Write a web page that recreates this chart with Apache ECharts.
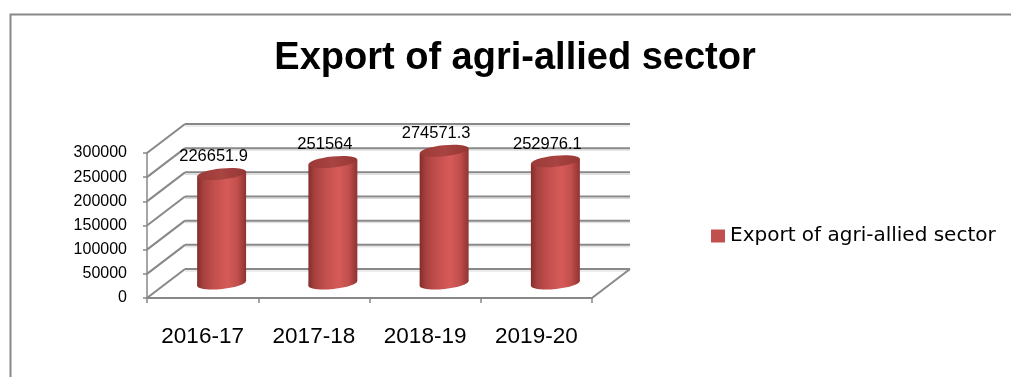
<!DOCTYPE html>
<html>
<head>
<meta charset="utf-8">
<script src="https://cdn.jsdelivr.net/npm/echarts@6/dist/echarts.min.js"></script>
<style>
html,body{margin:0;padding:0;background:#fff;}
#chart{width:1011px;height:377px;}
</style>
</head>
<body>
<div id="chart"></div>
<script>
// ---- data ----
const titleText = 'Export of agri-allied sector';
const seriesName = 'Export of agri-allied sector';
const categories = ['2016-17', '2017-18', '2018-19', '2019-20'];
const exportValues = [226651.9, 251564, 274571.3, 252976.1];
const yTicks = [0, 50000, 100000, 150000, 200000, 250000, 300000];

// ---- style constants ----
const DX = 38, DY = -29;           // depth offset of back wall
const GRID_C = '#888888';
const SANS = '"Liberation Sans", Arial, sans-serif';

const chart = echarts.init(document.getElementById('chart'), null, {renderer: 'canvas'});

function frameItem(params, api) {
  const cs = params.coordSys;
  const v = api.value(1);
  const y = api.coord([0, v])[1];
  const x0 = cs.x, x1 = cs.x + cs.width;
  const kids = [
    {type: 'line', shape: {x1: x0 + DX, y1: y + DY + 2, x2: x1 + DX, y2: y + DY + 2},
     style: {stroke: '#d9d9d9', lineWidth: 1}},
    {type: 'line', shape: {x1: x0, y1: y, x2: x0 + DX, y2: y + DY},
     style: {stroke: GRID_C, lineWidth: 2}},
    {type: 'line', shape: {x1: x0 + DX, y1: y + DY, x2: x1 + DX, y2: y + DY},
     style: {stroke: GRID_C, lineWidth: 2}}
  ];
  if (v === 0) {
    kids.push({type: 'line', shape: {x1: x1, y1: y, x2: x1 + DX, y2: y + DY},
      style: {stroke: GRID_C, lineWidth: 2}});
  }
  return {type: 'group', children: kids};
}

function cylItem(params, api) {
  const i = api.value(0), v = api.value(1);
  const top = api.coord([i, v]);
  const base = api.coord([i, 0]);
  const cx = top[0] + DX / 2;
  const ty = top[1] + DY / 2;
  const by = base[1] + DY / 2;
  const rx = api.size([1, 0])[0] * 0.22;
  const ry = 5.5;
  const t = 2.5;
  const ang = Math.atan2(t, rx);
  const bodyGrad = new echarts.graphic.LinearGradient(0, 0, 1, 0, [
    {offset: 0, color: '#842c2a'},
    {offset: 0.12, color: '#a5413f'},
    {offset: 0.35, color: '#c34f4c'},
    {offset: 0.62, color: '#d55b58'},
    {offset: 0.82, color: '#c24f4c'},
    {offset: 1, color: '#8f3331'}
  ]);
  const topGrad = new echarts.graphic.LinearGradient(0, 0, 1, 0, [
    {offset: 0, color: '#9b3a38'},
    {offset: 0.5, color: '#a84442'},
    {offset: 1, color: '#963734'}
  ]);
  return {
    type: 'group',
    children: [
      {type: 'ellipse', x: cx, y: by, rotation: ang, shape: {cx: 0, cy: 0, rx: rx, ry: ry},
       style: {fill: bodyGrad}},
      {type: 'polygon', shape: {points: [[cx - rx, ty + t], [cx + rx, ty - t], [cx + rx, by - t], [cx - rx, by + t]]},
       style: {fill: bodyGrad}},
      {type: 'ellipse', x: cx, y: ty, rotation: ang, shape: {cx: 0, cy: 0, rx: rx, ry: ry},
       style: {fill: topGrad}},
      {type: 'text', x: cx - 8, y: ty - 17,
       style: {text: String(v), fill: '#000', fontSize: 16.5, fontFamily: SANS,
               align: 'center', verticalAlign: 'middle'}}
    ]
  };
}

const option = {
  backgroundColor: '#ffffff',
  animation: false,
  title: {
    text: titleText,
    left: 515,
    top: 40,
    padding: 0,
    textAlign: 'center',
    textStyle: {fontFamily: SANS, fontWeight: 'bold',
                fontSize: 38, lineHeight: 38, color: '#000'}
  },
  legend: {
    data: [seriesName],
    left: 711,
    top: 226,
    padding: 0,
    icon: 'rect',
    itemWidth: 14,
    itemHeight: 13,
    itemGap: 5,
    textStyle: {fontFamily: '"DejaVu Sans", sans-serif', fontSize: 20, lineHeight: 20,
                color: '#000', padding: [0, 0, 0, 0]}
  },
  graphic: [
    {type: 'rect', left: 8, top: 12, silent: true, z: -10,
     shape: {x: 0, y: 0, width: 1100, height: 500},
     style: {fill: 'none', stroke: '#888888', lineWidth: 2}}
  ],
  grid: {left: 147, top: 153, width: 445, height: 145, containLabel: false},
  xAxis: {
    type: 'category',
    data: categories,
    boundaryGap: true,
    axisLine: {show: true, lineStyle: {color: GRID_C, width: 2}},
    axisTick: {show: true, interval: 0, length: 5, lineStyle: {color: GRID_C, width: 1.5}},
    axisLabel: {interval: 0, fontFamily: SANS, fontSize: 22.5, lineHeight: 22, color: '#000', margin: 28},
    splitLine: {show: false}
  },
  yAxis: {
    type: 'value',
    min: 0,
    max: 300000,
    interval: 50000,
    axisLine: {show: true, lineStyle: {color: GRID_C, width: 1.5}},
    axisTick: {show: true, length: 4, lineStyle: {color: GRID_C, width: 1.5}},
    axisLabel: {fontFamily: SANS, fontSize: 16, color: '#000', margin: 20,
                formatter: function (v) { return String(v); }},
    splitLine: {show: false}
  },
  series: [
    {
      name: '__frame',
      type: 'custom',
      coordinateSystem: 'cartesian2d',
      silent: true,
      clip: false,
      z: 1,
      data: yTicks.map(v => [0, v]),
      renderItem: frameItem
    },
    {
      name: seriesName,
      type: 'custom',
      coordinateSystem: 'cartesian2d',
      clip: false,
      z: 3,
      itemStyle: {color: '#C0504D'},
      data: exportValues.map((v, i) => [i, v]),
      renderItem: cylItem
    }
  ]
};
chart.setOption(option);
</script>
</body>
</html>
